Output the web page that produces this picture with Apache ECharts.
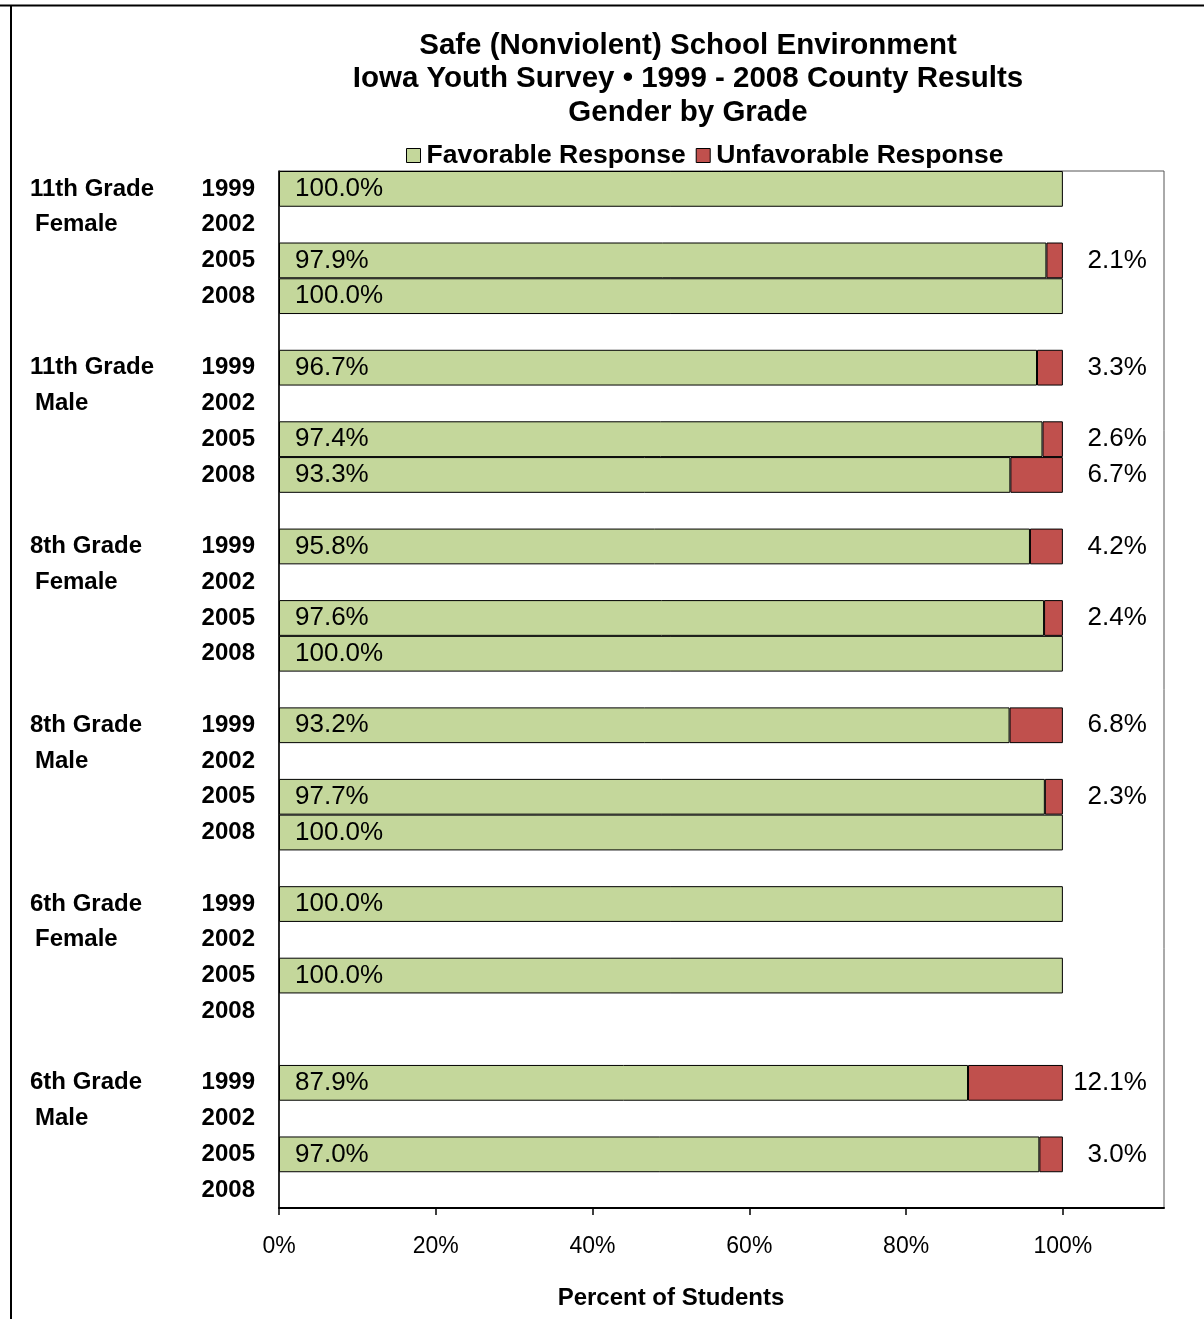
<!DOCTYPE html>
<html>
<head>
<meta charset="utf-8">
<script src="https://cdn.jsdelivr.net/npm/echarts@6/dist/echarts.min.js"></script>
<style>
  html, body { margin: 0; padding: 0; background: #fff; }
  #main { width: 1204px; height: 1319px; }
</style>
</head>
<body>
<div id="main"></div>
<script>
// data
var grades = ['11th Grade', '11th Grade', '8th Grade', '8th Grade', '6th Grade', '6th Grade'];
var genders = ['Female', 'Male', 'Female', 'Male', 'Female', 'Male'];
var years = ['1999', '2002', '2005', '2008'];
var favorable = [
    [100.0, null, 97.9, 100.0],
    [96.7, null, 97.4, 93.3],
    [95.8, null, 97.6, 100.0],
    [93.2, null, 97.7, 100.0],
    [100.0, null, 100.0, null],
    [87.9, null, 97.0, null]
];
var unfavorable = [
    [null, null, 2.1, null],
    [3.3, null, 2.6, 6.7],
    [4.2, null, 2.4, null],
    [6.8, null, 2.3, null],
    [null, null, null, null],
    [12.1, null, 3.0, null]
];
var xTicks = [0, 20, 40, 60, 80, 100];

// build rows: 4 years per group, one empty row between groups
var cats = [], yearLabels = [], groupLabels = [], favData = [], unfData = [];
grades.forEach(function (g, gi) {
    if (gi > 0) {
        cats.push('gap' + gi);
        yearLabels.push('');
        groupLabels.push('');
        favData.push(null);
        unfData.push(null);
    }
    years.forEach(function (y, yi) {
        cats.push(gi + '-' + y);
        yearLabels.push(y);
        groupLabels.push(yi === 0 ? '{g|' + g + '}' : (yi === 1 ? '{s|' + genders[gi] + '}' : ''));
        favData.push(favorable[gi][yi]);
        unfData.push(unfavorable[gi][yi]);
    });
});

var font = 'Liberation Sans, Arial, sans-serif';
var myChart = echarts.init(document.getElementById('main'));

var option = {
    textStyle: { fontFamily: font, color: '#000' },
    title: [
        {
            text: 'Safe (Nonviolent) School Environment\nIowa Youth Survey \u2022 1999 - 2008 County Results\nGender by Grade',
            left: 683,
            top: 24,
            textAlign: 'center',
            textStyle: { fontFamily: font, fontSize: 29.5, fontWeight: 'bold', lineHeight: 33.5, color: '#000' }
        },
        {
            text: 'Percent of Students',
            left: 666,
            top: 1281,
            textAlign: 'center',
            textStyle: { fontFamily: font, fontSize: 24, fontWeight: 'bold', color: '#000' }
        }
    ],
    legend: {
        data: ['Favorable Response', 'Unfavorable Response'],
        left: 401,
        top: 137,
        icon: 'rect',
        itemWidth: 14,
        itemHeight: 14,
        itemGap: 10,
        selectedMode: false,
        itemStyle: { borderColor: '#000', borderWidth: 1 },
        textStyle: { fontFamily: font, fontSize: 26.5, fontWeight: 'bold', color: '#000', padding: [0, 0, 0, 1] }
    },
    grid: {
        left: 279,
        top: 171,
        right: 40,
        bottom: 111,
        show: true,
        borderColor: '#555',
        borderWidth: 1
    },
    xAxis: {
        type: 'value',
        min: 0,
        max: 112.9,
        interval: 20,
        splitLine: { show: false },
        axisLine: { show: true, lineStyle: { color: '#000', width: 2 } },
        axisTick: { show: true, length: 7, lineStyle: { color: '#000', width: 1.5 }, customValues: xTicks },
        axisLabel: {
            customValues: xTicks,
            margin: 27,
            fontSize: 23,
            color: '#000',
            fontFamily: font,
            formatter: function (v) { return v + '%'; }
        }
    },
    yAxis: [
        {
            type: 'category',
            data: cats,
            inverse: true,
            position: 'left',
            axisLine: { show: true, lineStyle: { color: '#000', width: 1.5 } },
            axisTick: { show: false },
            axisLabel: {
                interval: 0,
                margin: 24,
                fontSize: 24,
                fontWeight: 'bold',
                color: '#000',
                fontFamily: font,
                formatter: function (v, i) { return yearLabels[i]; }
            }
        },
        {
            type: 'category',
            data: cats,
            inverse: true,
            position: 'left',
            axisLine: { show: false },
            axisTick: { show: false },
            axisLabel: {
                interval: 0,
                margin: 249,
                align: 'left',
                color: '#000',
                fontFamily: font,
                formatter: function (v, i) { return groupLabels[i]; },
                rich: {
                    g: { fontSize: 24, fontWeight: 'bold', fontFamily: font, color: '#000' },
                    s: { fontSize: 24, fontWeight: 'bold', fontFamily: font, color: '#000', padding: [0, 0, 0, 5] }
                }
            }
        }
    ],
    series: [
        {
            name: 'Favorable Response',
            type: 'bar',
            stack: 'all',
            yAxisIndex: 0,
            barWidth: '100%',
            data: favData,
            itemStyle: { color: '#C4D79B', borderColor: '#000', borderWidth: 1 },
            label: {
                show: true,
                position: 'insideLeft',
                distance: 16,
                fontSize: 26,
                color: '#000',
                fontFamily: font,
                formatter: function (p) { return p.value.toFixed(1) + '%'; }
            }
        },
        {
            name: 'Unfavorable Response',
            type: 'bar',
            stack: 'all',
            yAxisIndex: 0,
            barWidth: '100%',
            data: unfData,
            itemStyle: { color: '#C0504D', borderColor: '#000', borderWidth: 1 },
            label: {
                show: true,
                position: 'right',
                align: 'right',
                distance: 84,
                fontSize: 26,
                color: '#000',
                fontFamily: font,
                formatter: function (p) { return p.value.toFixed(1) + '%'; }
            }
        }
    ],
    graphic: [
        { type: 'line', shape: { x1: 0, y1: 5.5, x2: 1204, y2: 5.5 }, style: { stroke: '#000', lineWidth: 2 } },
        { type: 'line', shape: { x1: 11, y1: 5, x2: 11, y2: 1319 }, style: { stroke: '#000', lineWidth: 2 } }
    ]
};

myChart.setOption(option);
</script>
</body>
</html>
